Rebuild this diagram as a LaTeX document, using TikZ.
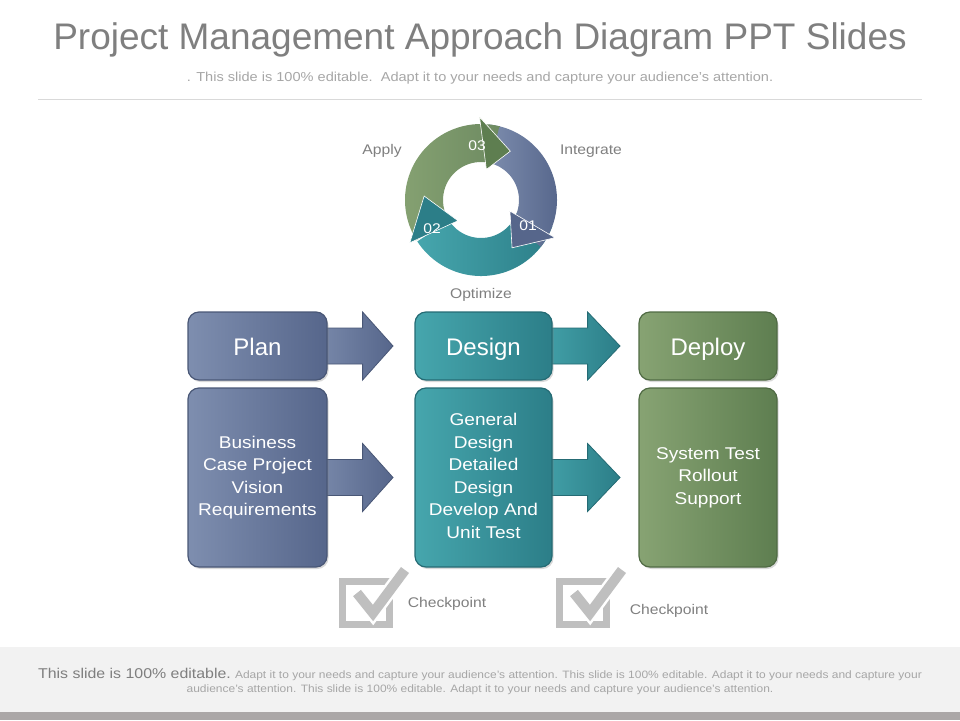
\documentclass[tikz,border=0pt]{standalone}
\usepackage{fontspec}
\setmainfont{Liberation Sans}
\newfontfamily\widefont[FakeStretch=1.12]{Liberation Sans}
\usetikzlibrary{calc,backgrounds,shadows}
\definecolor{titlegray}{HTML}{7F7F7F}
\definecolor{subgray}{HTML}{A6A6A6}
\definecolor{rulegray}{HTML}{D9D9D9}
\definecolor{bluea}{HTML}{7E8EAF}
\definecolor{blueb}{HTML}{56668B}
\definecolor{teala}{HTML}{46A6AD}
\definecolor{tealb}{HTML}{2C7E88}
\definecolor{greena}{HTML}{87A373}
\definecolor{greenb}{HTML}{5E7E50}
\definecolor{checkgray}{HTML}{BFBFBF}
\definecolor{footbg}{HTML}{F2F2F2}
\definecolor{footbar}{HTML}{ABA7A7}
\newcommand\blockarrow[4]{%
  \shadedraw[left color=#3, right color=#4, draw=#4!85!black, line width=0.8pt]
   ($(#1)+(-12,-18)$) -- ($(#1)+(35,-18)$) -- ($(#1)+(35,-34)$) -- (#2)
   -- ($(#1)+(35,34)$) -- ($(#1)+(35,18)$) -- ($(#1)+(-12,18)$) -- cycle;}
\newcommand\checkicon[2]{%
  \begin{scope}[shift={(#1,#2)}]
    \draw[checkgray, line width=7pt] (0,0) rectangle (47,43);
    \draw[white, line width=15pt] (15,12) -- (31,32) -- (63,-11);
    \draw[checkgray, line width=10pt] (15,12) -- (31,32) -- (63,-11);
  \end{scope}}
\begin{document}
\begin{tikzpicture}[x=1pt,y=-1pt,
  lbl/.style={text=titlegray, font=\widefont\fontsize{14}{16}\selectfont},
  num/.style={text=white, font=\widefont\fontsize{14}{16}\selectfont},
  boxbase/.style={rounded corners=11pt, text=white, align=center, inner sep=0pt,
     line width=1.2pt, drop shadow={shadow xshift=1.5pt, shadow yshift=-2pt, opacity=.3}},
  topbox/.style={boxbase, minimum height=68pt, text height=18pt, text depth=0pt, font=\fontsize{24}{26}\selectfont},
  lowbox/.style={boxbase, minimum height=179pt, font=\widefont\fontsize{17}{22.5}\selectfont},
  bluebox/.style={left color=bluea, right color=blueb, draw=blueb!85!black},
  tealbox/.style={left color=teala, right color=tealb, draw=tealb!85!black},
  greenbox/.style={left color=greena, right color=greenb, draw=greenb!85!black}]
\useasboundingbox (0,0) rectangle (960,720);
% title
\node[text=titlegray, font=\fontsize{37}{40}\selectfont] (title) at (480,40) {Project Management Approach Diagram PPT Slides};
\node[text=subgray, font=\widefont\fontsize{13}{14}\selectfont] (sub) at (480,78) {. This slide is 100\% editable.\ \ Adapt it to your needs and capture your audience’s attention.};
\draw[rulegray, line width=1pt] (38,99) -- (922,99);
% cycle
\begin{scope}[shift={(481,200)}, yscale=-1]
  \shade[left color=teala, right color=tealb] (-20:76) arc[start angle=-20, end angle=-147, radius=76] -- (-147:38) arc[start angle=-147, end angle=-20, radius=38] -- cycle;
  \shade[left color=bluea, right color=blueb] (84:76) arc[start angle=84, end angle=-38, radius=76] -- (-38:38) arc[start angle=-38, end angle=84, radius=38] -- cycle;
  \shade[left color=greena, right color=greenb!90!white] (212:76) arc[start angle=212, end angle=76, radius=76] -- (76:38) arc[start angle=76, end angle=212, radius=38] -- cycle;
  \filldraw[fill=greenb, draw=white, line width=0.6pt] (91:83) -- (59:57) -- (80:31) -- cycle;
  \filldraw[fill=blueb, draw=white, line width=0.6pt] (-27:83) -- (-57:57) -- (-21:31) -- cycle;
  \filldraw[fill=tealb, draw=white, line width=0.6pt] (211:83) -- (176:57) -- (222:31) -- cycle;
\end{scope}
\node[num] (n3) at (477,146) {03};
\node[num] (n2) at (432,229) {02};
\node[num] (n1) at (528,226) {01};
\node[lbl] (apply) at (382,151) {Apply};
\node[lbl] (integ) at (591,151) {Integrate};
\node[lbl] (optim) at (481,295) {Optimize};
% boxes
\node[topbox, bluebox, minimum width=139pt] (plan) at (257.5,346) {Plan};
\node[topbox, tealbox, minimum width=137pt] (design) at (483.5,346) {Design};
\node[topbox, greenbox, minimum width=138pt] (deploy) at (708,346) {Deploy};
\node[lowbox, bluebox, minimum width=139pt] (planl) at (257.5,477.5) {Business\\Case Project\\Vision\\Requirements};
\node[lowbox, tealbox, minimum width=137pt] (designl) at (483.5,477.5) {\raisebox{6pt}{\begin{tabular}{@{}c@{}}General\\Design\\Detailed\\Design\\Develop And\\Unit Test\end{tabular}}};
\node[lowbox, greenbox, minimum width=138pt] (deployl) at (708,477.5) {System Test\\Rollout\\Support};
\coordinate (t1) at (393,346);
\coordinate (t2) at (620,346);
\coordinate (t3) at (393,477.5);
\coordinate (t4) at (620,477.5);
\begin{pgfonlayer}{background}
  \blockarrow{plan.east}{t1}{bluea!90!blueb}{blueb}
  \blockarrow{design.east}{t2}{teala!90!tealb}{tealb}
  \blockarrow{planl.east}{t3}{bluea!90!blueb}{blueb}
  \blockarrow{designl.east}{t4}{teala!90!tealb}{tealb}
\end{pgfonlayer}
% checkpoints
\checkicon{342}{581}
\checkicon{559}{581}
\node[lbl] (cp1) at (447,604) {Checkpoint};
\node[lbl] (cp2) at (669,611) {Checkpoint};
% footer
\fill[footbg] (0,647) rectangle (960,712);
\fill[footbar] (0,712) rectangle (960,720);
\node[anchor=base, text=subgray, inner sep=0pt, font=\widefont] (foot1) at (480,678) {{\color{titlegray}\fontsize{14.2}{16}\selectfont This slide is 100\% editable.} {\fontsize{10.7}{12}\selectfont Adapt it to your needs and capture your audience’s attention. This slide is 100\% editable. Adapt it to your needs and capture your}};
\node[anchor=base, text=subgray, inner sep=0pt, font=\widefont\fontsize{10.7}{12}\selectfont] (foot2) at (480,692) {audience’s attention. This slide is 100\% editable. Adapt it to your needs and capture your audience’s attention.};
\end{tikzpicture}
\end{document}
